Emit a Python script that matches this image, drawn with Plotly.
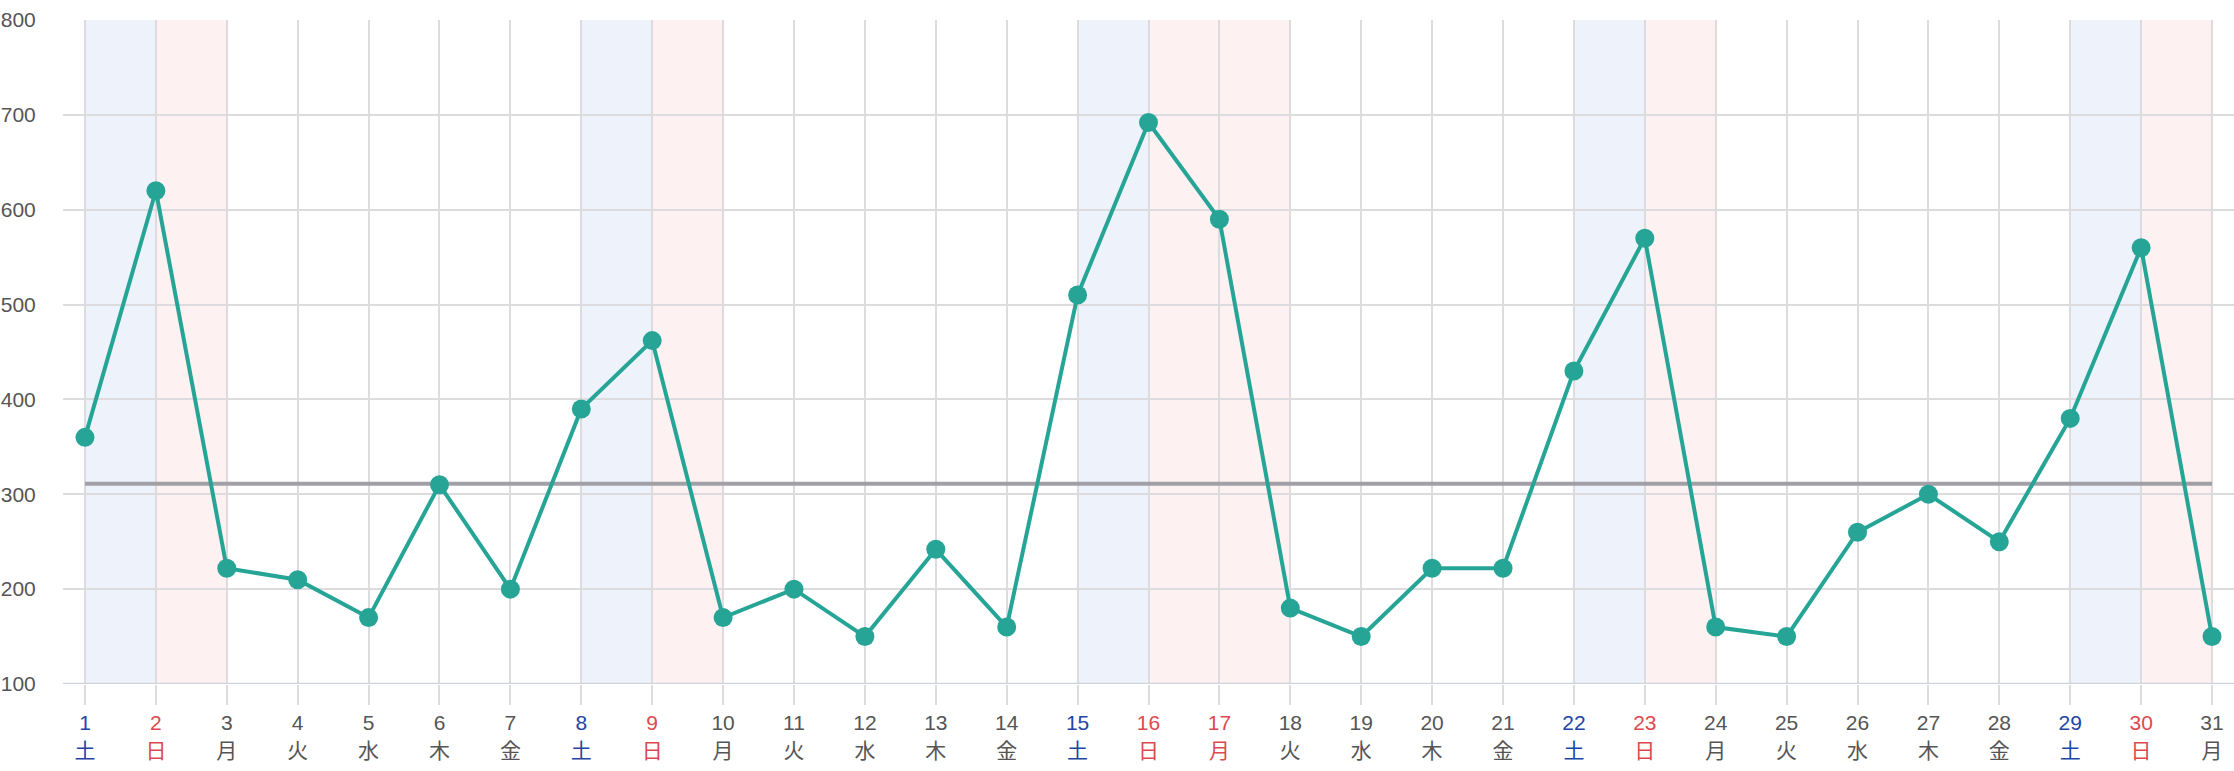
import plotly.graph_objects as go

days = list(range(1, 32))
weekdays = ["土", "日", "月", "火", "水", "木", "金",
            "土", "日", "月", "火", "水", "木", "金",
            "土", "日", "月", "火", "水", "木", "金",
            "土", "日", "月", "火", "水", "木", "金",
            "土", "日", "月"]
values = [360, 620, 222, 210, 170, 310, 200,
          390, 462, 170, 200, 150, 242, 160,
          510, 692, 590, 180, 150, 222, 222,
          430, 570, 160, 150, 260, 300, 250,
          380, 560, 150]
saturdays = [1, 8, 15, 22, 29]
holidays = [2, 9, 16, 17, 23, 30]
y_ticks = [100, 200, 300, 400, 500, 600, 700, 800]

average = sum(values) / len(values)

LINE = "#26a597"
SAT_COL = "#2245a5"
HOL_COL = "#dc4a50"
TXT = "#555555"
NUM_FONT = "Liberation Sans, Arial, sans-serif"

def label(d, w):
    if d in saturdays:
        c = SAT_COL
    elif d in holidays:
        c = HOL_COL
    else:
        c = TXT
    return (f"<span style='color:{c};font-family:{NUM_FONT};font-size:21px'>{d}</span><br>"
            f"<span style='color:{c};font-size:21px'>{w}</span>")

ticktext = [label(d, w) for d, w in zip(days, weekdays)]

shapes = []
for d in saturdays:
    shapes.append(dict(type="rect", xref="x", yref="y", x0=d, x1=d + 1, y0=100, y1=800,
                       fillcolor="#eef3fb", line_width=0, layer="below"))
for d in holidays:
    shapes.append(dict(type="rect", xref="x", yref="y", x0=d, x1=d + 1, y0=100, y1=800,
                       fillcolor="#fdf1f1", line_width=0, layer="below"))

fig = go.Figure()
fig.add_trace(go.Scatter(x=[days[0], days[-1]], y=[average, average], mode="lines",
                         line=dict(color="#a0a0a6", width=4), hoverinfo="skip",
                         showlegend=False))
fig.add_trace(go.Scatter(x=days, y=values, mode="lines+markers",
                         line=dict(color=LINE, width=4),
                         marker=dict(color=LINE, size=19, line=dict(width=0)),
                         showlegend=False))

fig.update_layout(
    width=2234, height=771,
    margin=dict(l=63, r=0, t=20, b=87),
    paper_bgcolor="white", plot_bgcolor="white",
    shapes=shapes,
    font=dict(family="Liberation Sans, Arial, Noto Sans CJK JP, sans-serif", size=21, color=TXT),
    xaxis=dict(range=[0.69, 31.31], tickmode="array", tickvals=days, ticktext=ticktext,
               showgrid=True, gridcolor="#dcdcdf", gridwidth=1.5,
               ticks="outside", ticklen=20, tickcolor="#dcdcdf", tickwidth=1.5,
               showline=False, zeroline=False,
               tickfont=dict(size=21, family="Noto Sans CJK JP, Liberation Sans, sans-serif")),
    yaxis=dict(range=[100, 800], tickmode="array", tickvals=y_ticks,
               showgrid=True, gridcolor="#dcdcdf", gridwidth=2,
               zeroline=False, showline=False,
               ticks="outside", ticklen=22, tickcolor="white",
               tickfont=dict(size=21, color=TXT, family=NUM_FONT)),
)
fig.add_shape(type="line", xref="paper", yref="y", x0=0, x1=1, y0=100, y1=100,
              line=dict(color="#cfd3de", width=2.5), layer="above")

fig.write_html("out.html", config={"displayModeBar": False},
               post_script="document.body.style.margin='0';")
